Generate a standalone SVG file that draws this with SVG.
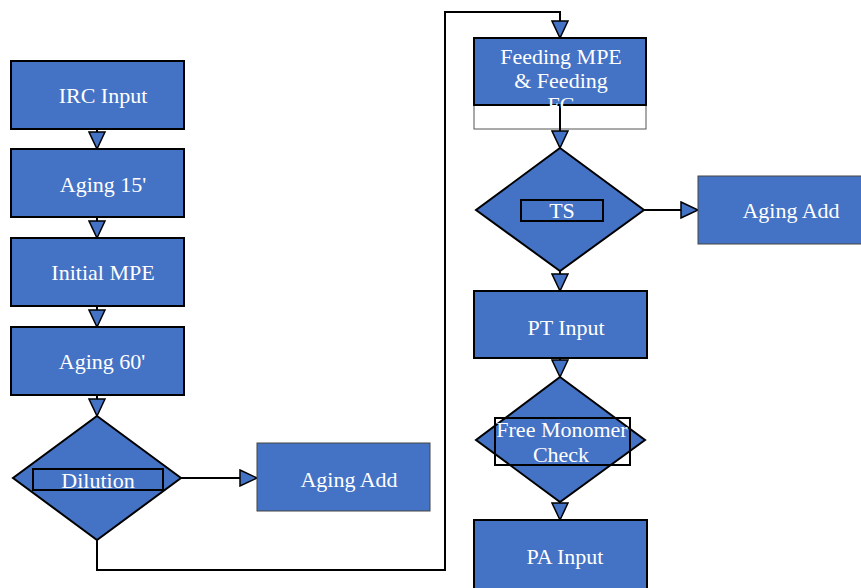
<svg xmlns="http://www.w3.org/2000/svg" width="861" height="588" viewBox="0 0 861 588">
<style>
.box{fill:#4472C4;stroke:#000;stroke-width:2}
.thin{fill:#4472C4;stroke:#444;stroke-width:1}
.dia{fill:#4472C4;stroke:#000;stroke-width:2}
.inner{fill:none;stroke:#000;stroke-width:2}
.t{font-family:"Liberation Serif","Times New Roman",serif;font-size:22px;fill:#fff;text-anchor:middle}
.c{fill:none;stroke:#000;stroke-width:2}
</style>
<defs>
<marker id="ah" markerUnits="userSpaceOnUse" markerWidth="20" markerHeight="18" refX="18" refY="9" orient="auto" viewBox="0 0 20 18">
<path d="M1,1 L18,9 L1,17 Z" fill="#4472C4" stroke="#000" stroke-width="1.5"/>
</marker>
</defs>
<rect width="861" height="588" fill="#fff"/>
<g id="connectors">
<path class="c" d="M97,129 L97,149" marker-end="url(#ah)"/>
<path class="c" d="M97,217 L97,238" marker-end="url(#ah)"/>
<path class="c" d="M97,306 L97,327" marker-end="url(#ah)"/>
<path class="c" d="M97,395 L97,416" marker-end="url(#ah)"/>
<path class="c" d="M181,478 L257,478" marker-end="url(#ah)"/>
<path class="c" d="M97,540 L97,570 L445,570 L445,12 L560,12 L560,38" marker-end="url(#ah)"/>
<path class="c" d="M644,210 L698,210" marker-end="url(#ah)"/>
<path class="c" d="M560,271 L560,291" marker-end="url(#ah)"/>
<path class="c" d="M560,358 L560,377" marker-end="url(#ah)"/>
<path class="c" d="M560,502 L560,520" marker-end="url(#ah)"/>
</g>
<g id="irc-input"><rect class="box" x="11" y="61" width="173" height="68"/><text class="t" x="103" y="103">IRC Input</text></g>
<g id="aging-15"><rect class="box" x="11" y="149" width="173" height="68"/><text class="t" x="103" y="192">Aging 15'</text></g>
<g id="initial-mpe"><rect class="box" x="11" y="238" width="173" height="68"/><text class="t" x="103" y="280">Initial MPE</text></g>
<g id="aging-60"><rect class="box" x="11" y="327" width="173" height="68"/><text class="t" x="102" y="369">Aging 60'</text></g>
<g id="dilution"><polygon class="dia" points="97,416 181,478 97,540 13,478"/><rect class="inner" x="33" y="469" width="130" height="21"/><text class="t" x="98" y="488">Dilution</text></g>
<g id="aging-add-1"><rect class="thin" x="257" y="443" width="173" height="68"/><text class="t" x="349" y="487">Aging Add</text></g>
<g id="feeding">
<rect x="474" y="38" width="172" height="91" fill="#fff" stroke="#555" stroke-width="1"/>
<rect class="box" x="474" y="38" width="172" height="67"/>
<path class="c" d="M560,105 L560,148" marker-end="url(#ah)"/>
<text class="t" x="561" y="64">Feeding MPE</text>
<text class="t" x="561" y="88">&amp; Feeding</text>
<text class="t" x="561" y="112">FC</text>
</g>
<g id="ts"><polygon class="dia" points="560,148 644,210 560,271 476,210"/><rect class="inner" x="521" y="200" width="82" height="21"/><text class="t" x="562" y="218">TS</text></g>
<g id="aging-add-2"><rect class="thin" x="698" y="176" width="170" height="68"/><text class="t" x="791" y="218">Aging Add</text></g>
<g id="pt-input"><rect class="box" x="474" y="291" width="173" height="67"/><text class="t" x="566" y="335">PT Input</text></g>
<g id="free-monomer"><polygon class="dia" points="560,377 645,440 560,502 476,440"/><rect class="inner" x="495" y="418" width="135" height="47"/><text class="t" x="562" y="437">Free Monomer</text><text class="t" x="561" y="462">Check</text></g>
<g id="pa-input"><rect class="box" x="474" y="520" width="173" height="72"/><text class="t" x="565" y="564">PA Input</text></g>
</svg>
